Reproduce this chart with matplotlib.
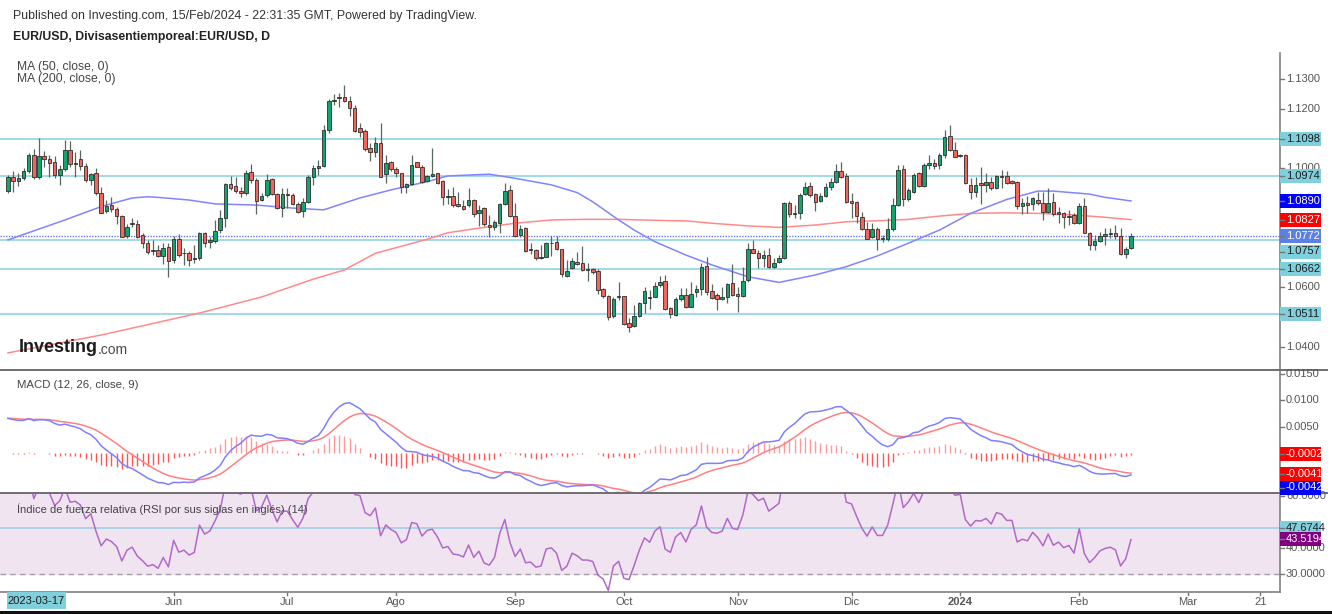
import matplotlib
matplotlib.use('Agg')
import matplotlib.pyplot as plt
import numpy as np
from matplotlib.patches import Rectangle
from matplotlib.lines import Line2D
import matplotlib.transforms as mtransforms

# ---------------- data (EUR/USD daily) ----------------
opens = [1.0925, 1.0972, 1.0956, 1.0967, 1.0992, 1.1043, 1.0972, 1.1041, 1.1030, 1.1020,
         1.0977, 1.0998, 1.1061, 1.1014, 1.1030, 1.1006, 1.0962, 1.0983, 1.0915, 1.0856,
         1.0875, 1.0862, 1.0840, 1.0773, 1.0817, 1.0812, 1.0774, 1.0750, 1.0725, 1.0725,
         1.0706, 1.0736, 1.0691, 1.0763, 1.0716, 1.0714, 1.0696, 1.0697, 1.0781, 1.0751,
         1.0756, 1.0792, 1.0831, 1.0947, 1.0941, 1.0923, 1.0918, 1.0988, 1.0960, 1.0893,
         1.0910, 1.0963, 1.0913, 1.0865, 1.0912, 1.0910, 1.0880, 1.0857, 1.0885, 1.0972,
         1.1002, 1.1007, 1.1129, 1.1227, 1.1238, 1.1241, 1.1227, 1.1201, 1.1134, 1.1126,
         1.1067, 1.1053, 1.1084, 1.0979, 1.1022, 1.0996, 1.0983, 1.0938, 1.0947, 1.1020,
         1.1005, 1.0957, 1.0975, 1.0983, 1.0957, 1.0904, 1.0907, 1.0879, 1.0873, 1.0876,
         1.0893, 1.0848, 1.0865, 1.0809, 1.0801, 1.0815, 1.0879, 1.0927, 1.0839, 1.0775,
         1.0798, 1.0729, 1.0725, 1.0697, 1.0702, 1.0747, 1.0753, 1.0728, 1.0638, 1.0663,
         1.0686, 1.0682, 1.0661, 1.0661, 1.0656, 1.0593, 1.0570, 1.0503, 1.0567, 1.0570,
         1.0478, 1.0469, 1.0504, 1.0548, 1.0565, 1.0568, 1.0607, 1.0621, 1.0529, 1.0506,
         1.0559, 1.0574, 1.0535, 1.0585, 1.0593, 1.0671, 1.0588, 1.0573, 1.0559, 1.0566,
         1.0615, 1.0577, 1.0570, 1.0624, 1.0728, 1.0716, 1.0697, 1.0708, 1.0667, 1.0685,
         1.0698, 1.0882, 1.0846, 1.0851, 1.0913, 1.0941, 1.0912, 1.0890, 1.0907, 1.0938,
         1.0955, 1.0992, 1.0974, 1.0890, 1.0888, 1.0837, 1.0795, 1.0768, 1.0795, 1.0764,
         1.0761, 1.0795, 1.0876, 1.0996, 1.0896, 1.0921, 1.0983, 1.0940, 1.1011, 1.1016,
         1.1011, 1.1044, 1.1109, 1.1061, 1.1041, 1.1044, 1.0944, 1.0921, 1.0949, 1.0944,
         1.0955, 1.0932, 1.0974, 1.0974, 1.0957, 1.0955, 1.0874, 1.0882, 1.0878, 1.0893,
         1.0882, 1.0854, 1.0888, 1.0846, 1.0848, 1.0835, 1.0843, 1.0815, 1.0874, 1.0783,
         1.0742, 1.0756, 1.0772, 1.0778, 1.0781, 1.0772, 1.0711, 1.0733]
highs = [1.0977, 1.0989, 1.0985, 1.1000, 1.1050, 1.1065, 1.1100, 1.1059, 1.1045, 1.1040,
         1.1010, 1.1095, 1.1093, 1.1056, 1.1061, 1.1016, 1.0983, 1.1000, 1.0938, 1.0893,
         1.0904, 1.0871, 1.0843, 1.0812, 1.0831, 1.0825, 1.0781, 1.0759, 1.0759, 1.0742,
         1.0747, 1.0747, 1.0772, 1.0779, 1.0731, 1.0720, 1.0742, 1.0787, 1.0787, 1.0770,
         1.0826, 1.0860, 1.0949, 1.0974, 1.0972, 1.0938, 1.0994, 1.1014, 1.0966, 1.0915,
         1.0979, 1.0966, 1.0918, 1.0935, 1.0932, 1.0918, 1.0888, 1.0899, 1.0977, 1.1011,
         1.1028, 1.1145, 1.1232, 1.1249, 1.1252, 1.1280, 1.1243, 1.1213, 1.1151, 1.1131,
         1.1084, 1.1106, 1.1153, 1.1045, 1.1025, 1.1005, 1.0985, 1.0949, 1.1045, 1.1022,
         1.1010, 1.0977, 1.1067, 1.0985, 1.0960, 1.0930, 1.0938, 1.0921, 1.0893, 1.0932,
         1.0895, 1.0876, 1.0871, 1.0843, 1.0826, 1.0882, 1.0949, 1.0944, 1.0884, 1.0809,
         1.0804, 1.0750, 1.0730, 1.0742, 1.0753, 1.0772, 1.0772, 1.0730, 1.0691, 1.0697,
         1.0719, 1.0738, 1.0680, 1.0663, 1.0661, 1.0596, 1.0574, 1.0568, 1.0618, 1.0571,
         1.0495, 1.0540, 1.0551, 1.0602, 1.0590, 1.0618, 1.0637, 1.0641, 1.0534, 1.0568,
         1.0596, 1.0596, 1.0619, 1.0607, 1.0680, 1.0700, 1.0611, 1.0579, 1.0602, 1.0615,
         1.0678, 1.0602, 1.0667, 1.0747, 1.0759, 1.0725, 1.0725, 1.0731, 1.0697, 1.0708,
         1.0888, 1.0890, 1.0876, 1.0916, 1.0955, 1.0955, 1.0916, 1.0916, 1.0951, 1.0966,
         1.1013, 1.1021, 1.0983, 1.0916, 1.0890, 1.0854, 1.0820, 1.0815, 1.0801, 1.0775,
         1.0832, 1.0899, 1.1011, 1.1011, 1.0932, 1.0983, 1.0988, 1.1016, 1.1044, 1.1030,
         1.1050, 1.1129, 1.1145, 1.1089, 1.1047, 1.1047, 1.0966, 1.0972, 1.1003, 1.0983,
         1.0972, 1.0977, 1.0994, 1.0991, 1.0960, 1.0957, 1.0899, 1.0907, 1.0902, 1.0921,
         1.0921, 1.0932, 1.0916, 1.0871, 1.0854, 1.0860, 1.0851, 1.0882, 1.0899, 1.0786,
         1.0775, 1.0787, 1.0798, 1.0798, 1.0809, 1.0798, 1.0736, 1.0783]
lows = [1.0918, 1.0921, 1.0940, 1.0960, 1.0985, 1.0965, 1.0965, 1.1005, 1.0972, 1.0966,
        1.0944, 1.0990, 1.1005, 1.0972, 1.0994, 1.0955, 1.0944, 1.0910, 1.0848, 1.0850,
        1.0854, 1.0812, 1.0768, 1.0764, 1.0803, 1.0764, 1.0731, 1.0712, 1.0708, 1.0703,
        1.0678, 1.0635, 1.0682, 1.0703, 1.0675, 1.0671, 1.0680, 1.0691, 1.0736, 1.0731,
        1.0747, 1.0781, 1.0803, 1.0927, 1.0915, 1.0904, 1.0910, 1.0949, 1.0846, 1.0891,
        1.0904, 1.0910, 1.0863, 1.0837, 1.0865, 1.0876, 1.0851, 1.0837, 1.0882, 1.0944,
        1.0977, 1.1005, 1.1120, 1.1213, 1.1207, 1.1224, 1.1176, 1.1123, 1.1106, 1.1059,
        1.1025, 1.1037, 1.0969, 1.0949, 1.0992, 1.0972, 1.0918, 1.0915, 1.0944, 1.1003,
        1.0949, 1.0955, 1.0972, 1.0947, 1.0876, 1.0880, 1.0871, 1.0868, 1.0860, 1.0871,
        1.0837, 1.0806, 1.0806, 1.0768, 1.0792, 1.0783, 1.0876, 1.0837, 1.0770, 1.0770,
        1.0719, 1.0711, 1.0691, 1.0694, 1.0700, 1.0705, 1.0725, 1.0635, 1.0635, 1.0660,
        1.0675, 1.0656, 1.0621, 1.0644, 1.0577, 1.0562, 1.0490, 1.0495, 1.0557, 1.0473,
        1.0450, 1.0467, 1.0501, 1.0514, 1.0525, 1.0566, 1.0602, 1.0523, 1.0495, 1.0504,
        1.0555, 1.0529, 1.0532, 1.0568, 1.0574, 1.0574, 1.0559, 1.0523, 1.0557, 1.0546,
        1.0570, 1.0518, 1.0568, 1.0619, 1.0714, 1.0663, 1.0669, 1.0663, 1.0663, 1.0680,
        1.0696, 1.0835, 1.0831, 1.0828, 1.0910, 1.0904, 1.0856, 1.0886, 1.0902, 1.0927,
        1.0951, 1.0966, 1.0882, 1.0831, 1.0815, 1.0792, 1.0761, 1.0764, 1.0725, 1.0753,
        1.0755, 1.0790, 1.0873, 1.0874, 1.0890, 1.0918, 1.0938, 1.0938, 1.0999, 1.0999,
        1.0999, 1.1033, 1.1059, 1.1037, 1.1039, 1.0947, 1.0895, 1.0902, 1.0880, 1.0921,
        1.0927, 1.0929, 1.0932, 1.0947, 1.0947, 1.0862, 1.0846, 1.0848, 1.0860, 1.0876,
        1.0826, 1.0848, 1.0839, 1.0815, 1.0798, 1.0809, 1.0811, 1.0812, 1.0781, 1.0725,
        1.0725, 1.0753, 1.0742, 1.0764, 1.0761, 1.0708, 1.0697, 1.0727]
closes = [1.0972, 1.0956, 1.0967, 1.0992, 1.1043, 1.0972, 1.1041, 1.1030, 1.1019, 1.0977,
          1.0998, 1.1061, 1.1014, 1.1018, 1.1006, 1.0960, 1.0979, 1.0915, 1.0850, 1.0873,
          1.0862, 1.0840, 1.0770, 1.0803, 1.0812, 1.0770, 1.0747, 1.0719, 1.0723, 1.0705,
          1.0731, 1.0688, 1.0761, 1.0708, 1.0714, 1.0692, 1.0699, 1.0781, 1.0747, 1.0757,
          1.0790, 1.0831, 1.0947, 1.0932, 1.0923, 1.0918, 1.0985, 1.0960, 1.0891, 1.0907,
          1.0960, 1.0912, 1.0865, 1.0912, 1.0910, 1.0880, 1.0852, 1.0885, 1.0969, 1.1002,
          1.1007, 1.1129, 1.1227, 1.1229, 1.1235, 1.1227, 1.1201, 1.1126, 1.1123, 1.1064,
          1.1053, 1.1084, 1.0972, 1.1016, 1.0996, 1.0983, 1.0936, 1.0947, 1.1010, 1.1005,
          1.0955, 1.0975, 1.0979, 1.0949, 1.0904, 1.0908, 1.0876, 1.0873, 1.0864, 1.0893,
          1.0845, 1.0860, 1.0811, 1.0801, 1.0818, 1.0879, 1.0923, 1.0839, 1.0772, 1.0795,
          1.0723, 1.0725, 1.0697, 1.0700, 1.0747, 1.0750, 1.0728, 1.0643, 1.0654, 1.0689,
          1.0677, 1.0658, 1.0658, 1.0652, 1.0590, 1.0570, 1.0501, 1.0559, 1.0571, 1.0476,
          1.0467, 1.0504, 1.0548, 1.0586, 1.0568, 1.0604, 1.0618, 1.0525, 1.0510, 1.0559,
          1.0574, 1.0535, 1.0577, 1.0593, 1.0667, 1.0585, 1.0562, 1.0559, 1.0566, 1.0611,
          1.0574, 1.0570, 1.0621, 1.0728, 1.0716, 1.0697, 1.0708, 1.0667, 1.0682, 1.0698,
          1.0882, 1.0846, 1.0851, 1.0910, 1.0938, 1.0910, 1.0886, 1.0907, 1.0938, 1.0955,
          1.0992, 1.0972, 1.0888, 1.0882, 1.0839, 1.0795, 1.0763, 1.0795, 1.0761, 1.0761,
          1.0795, 1.0876, 1.0994, 1.0895, 1.0927, 1.0977, 1.0940, 1.1011, 1.1016, 1.1007,
          1.1044, 1.1104, 1.1061, 1.1039, 1.1044, 1.0949, 1.0921, 1.0944, 1.0942, 1.0952,
          1.0932, 1.0974, 1.0969, 1.0949, 1.0949, 1.0874, 1.0882, 1.0876, 1.0899, 1.0882,
          1.0854, 1.0884, 1.0846, 1.0854, 1.0835, 1.0840, 1.0815, 1.0873, 1.0783, 1.0742,
          1.0755, 1.0772, 1.0778, 1.0781, 1.0772, 1.0711, 1.0727, 1.0772]

ma50_idx = [0, 11, 18, 24, 27, 29, 35, 40, 48, 55, 61, 68, 74, 81, 85, 93, 98, 105,
            110, 113, 118, 121, 125, 131, 136, 143, 149, 156, 162, 168, 174, 180, 186,
            193, 199, 202, 209, 212, 217]
ma50_val = [1.0759, 1.0826, 1.0871, 1.0900, 1.0904, 1.0902, 1.0893, 1.0880, 1.0876,
            1.0866, 1.0860, 1.0900, 1.0927, 1.0955, 1.0974, 1.0980, 1.0966, 1.0944,
            1.0918, 1.0887, 1.0826, 1.0792, 1.0753, 1.0708, 1.0675, 1.0635, 1.0616,
            1.0641, 1.0669, 1.0705, 1.0748, 1.0792, 1.0848, 1.0895, 1.0923, 1.0923,
            1.0913, 1.0902, 1.0890]
ma200_idx = [0, 18, 37, 49, 59, 65, 71, 81, 85, 92, 98, 105, 111, 118, 127, 131, 136,
             143, 149, 156, 162, 169, 174, 180, 186, 193, 199, 206, 212, 217]
ma200_val = [1.0379, 1.0439, 1.0513, 1.0567, 1.0627, 1.0658, 1.0714, 1.0761, 1.0783,
             1.0801, 1.0815, 1.0826, 1.0828, 1.0828, 1.0824, 1.0823, 1.0815, 1.0806,
             1.0801, 1.0809, 1.0820, 1.0824, 1.0828, 1.0839, 1.0848, 1.0850, 1.0848,
             1.0843, 1.0835, 1.0827]

# horizontal levels drawn on the chart
price_levels = [1.1098, 1.0974, 1.0757, 1.0662, 1.0511]
price_ticks = [1.13, 1.12, 1.10, 1.06, 1.04]
macd_ticks = [0.0150, 0.0100, 0.0050]
rsi_ticks = [60.0, 40.0, 30.0]
rsi_level = 47.6744
rsi_last = 43.5194
macd_last_labels = ['-0.0002', '-0.0041', '-0.0042']
macd_last_values = [-0.0002, -0.0041, -0.0042]

# indicator settings and state at the first visible bar
macd_fast, macd_slow, macd_sig = 12, 26, 9
macd_seed_fast, macd_seed_slow, macd_seed_signal = 1.0915, 1.0849, 0.0066
rsi_period = 14
rsi_seed_gain, rsi_seed_loss = 0.0024, 0.0016

date_labels = ['Jun', 'Jul', 'Ago', 'Sep', 'Oct', 'Nov', 'Dic', '2024', 'Feb', 'Mar', '21']
date_label_bar = [32, 54, 75, 98, 119, 141, 163, 184, 207, 228, 242]

# ---------------- figure ----------------
plt.rcParams['font.family'] = ['Liberation Sans', 'DejaVu Sans']
W, H = 1332, 614
fig = plt.figure(figsize=(W / 100, H / 100), dpi=100)
fig.patch.set_facecolor('white')


def fx(px):
    return px / W


def fy(py):
    return 1 - py / H


AX_R = 1280
ax = fig.add_axes([0, fy(370), fx(AX_R), (370 - 53) / H])
axm = fig.add_axes([0, fy(493), fx(AX_R), (493 - 370) / H])
axr = fig.add_axes([0, fy(592), fx(AX_R), (592 - 493) / H])

XL = (-1.546, 245.8)
for a in (ax, axm, axr):
    a.set_xlim(*XL)
    a.set_axis_off()
ax.set_ylim(1.03215, 1.13874)
axm.set_ylim(-0.00771, 0.01582)
axr.set_ylim(23.3, 61.15)

o = np.array(opens)
hh = np.array(highs)
ll = np.array(lows)
c = np.array(closes)
idx = np.arange(len(c))
up = c >= o

GREEN = '#13a56b'
RED = '#f2645c'
EDGE = '#2e2e2e'
CYAN = '#86d0de'

# horizontal levels
for v in price_levels:
    ax.axhline(v, color=CYAN, lw=1.1, zorder=1)
ax.axhline(c[-1], color='#5b7cf0', lw=1.0, ls=(0, (1, 1)), zorder=1)

# MAs
ax.plot(ma200_idx, ma200_val, color='#ff8a8a', lw=1.1, zorder=2)
ax.plot(ma50_idx, ma50_val, color='#8383ff', lw=1.1, zorder=2)

# candles
ax.vlines(idx, ll, hh, color='#56695c', lw=0.9, zorder=3)
bh = np.abs(c - o)
bh = np.where(bh < 0.00004, 0.00004, bh)
ax.bar(idx[up], bh[up], bottom=o[up], width=0.68, color=GREEN, edgecolor=EDGE,
       linewidth=0.6, zorder=4)
ax.bar(idx[~up], bh[~up], bottom=c[~up], width=0.68, color=RED, edgecolor=EDGE,
       linewidth=0.6, zorder=4)


# ---------------- MACD ----------------
def ema(values, n, seed):
    a = 2.0 / (n + 1)
    e = seed
    out = []
    for v in values:
        e += a * (v - e)
        out.append(e)
    return np.array(out)


ema_f = ema(c, macd_fast, macd_seed_fast)
ema_s = ema(c, macd_slow, macd_seed_slow)
macd = ema_f - ema_s
signal = ema(macd, macd_sig, macd_seed_signal)
hist = macd - signal
hcol = np.where(hist >= 0, '#ff9a9a', '#ff5555')
axm.vlines(idx, 0, hist, colors=hcol, lw=1.0, zorder=2)
axm.plot(idx, signal, color='#ff8080', lw=1.1, zorder=3)
axm.plot(idx, macd, color='#7f7fff', lw=1.1, zorder=4)

# ---------------- RSI ----------------
prev = np.concatenate([[o[0]], c[:-1]])
chg = c - prev
g, lo_ = rsi_seed_gain, rsi_seed_loss
rsi = []
for d in chg:
    g += (max(d, 0) - g) / rsi_period
    lo_ += (max(-d, 0) - lo_) / rsi_period
    rsi.append(100 - 100 / (1 + g / lo_))
rsi = np.array(rsi)
axr.axhspan(30, 61.15, color='#f1e4f1', zorder=0)
axr.axhline(30, color='#a0a0a0', lw=1.0, ls=(0, (4, 3)), zorder=1)
axr.axhline(rsi_level, color='#9fcfe4', lw=1.2, zorder=1)
axr.plot(idx, rsi, color='#b069c6', lw=1.1, zorder=3)

# ---------------- frame lines ----------------
LG = '#808080'
fig.add_artist(Line2D([fx(AX_R), fx(AX_R)], [fy(53), fy(592)], color=LG, lw=1.2))
fig.add_artist(Line2D([0, fx(1327)], [fy(370), fy(370)], color='#6e6e6e', lw=1.4))
fig.add_artist(Line2D([0, fx(1327)], [fy(493), fy(493)], color='#6e6e6e', lw=1.4))
fig.add_artist(Line2D([0, fx(AX_R)], [fy(592), fy(592)], color=LG, lw=1.2))
fig.add_artist(Rectangle((0, 0), 1, 3 / H, transform=fig.transFigure,
                         facecolor='#111111', edgecolor='none', zorder=9))


# ---------------- right-hand scale labels ----------------
def ypix(axis, v):
    return axis.transData.transform((0, v))[1]  # display y from bottom


def scale_label(axis, v, txt, fc=None, tc='#555555', disp=None, z=5):
    yd = ypix(axis, v) if disp is None else disp
    if fc is not None:
        fig.add_artist(Rectangle((fx(AX_R), (yd - 7) / H), 41 / W, 14 / H,
                                 transform=fig.transFigure, facecolor=fc,
                                 edgecolor='none', zorder=z))
    fig.add_artist(Line2D([fx(AX_R), fx(AX_R + 4)], [yd / H, yd / H],
                          color='#777777', lw=1.0, zorder=z + 0.1))
    fig.text(fx(AX_R + 6), yd / H, txt, fontsize=8, color=tc, va='center',
             ha='left', zorder=z + 0.2)


for v in price_ticks:
    scale_label(ax, v, f'{v:.4f}', z=4)
for v in price_levels:
    # the 1.0757 label is pushed down below the last-price label, as on the chart
    dsp = H - 251.5 if abs(v - 1.0757) < 1e-6 else None
    scale_label(ax, v, f'{v:.4f}', fc='#80cfdc', tc='#1e1e1e', disp=dsp, z=6)
scale_label(ax, ma50_val[-1], f'{ma50_val[-1]:.4f}', fc='#0000ff', tc='white', z=7)
scale_label(ax, ma200_val[-1], f'{ma200_val[-1]:.4f}', fc='#ff0000', tc='white', z=7)
scale_label(ax, c[-1], f'{c[-1]:.4f}', fc='#5b80e8', tc='white', z=8)

for v in macd_ticks:
    scale_label(axm, v, f'{v:.4f}', z=4)
macd_colors = ['#ff0000', '#ff0000', '#0000ff']
macd_disp = [ypix(axm, macd_last_values[0]), H - 474, H - 487.5]
for t, col, dsp in zip(macd_last_labels, macd_colors, macd_disp):
    scale_label(axm, 0, t, fc=col, tc='white', disp=dsp, z=7)

for v in rsi_ticks:
    scale_label(axr, v, f'{v:.4f}', z=4)
scale_label(axr, rsi_level, f'{rsi_level:.4f}', fc='#80cfdc', tc='#1e1e1e', z=6)
scale_label(axr, rsi_last, f'{rsi_last:.4f}', fc='#800080', tc='white', z=7)

# ---------------- date labels ----------------
tr = mtransforms.blended_transform_factory(axr.transData, fig.transFigure)
for lab, b in zip(date_labels, date_label_bar):
    axr.text(b, fy(602), lab, transform=tr, fontsize=8, color='#555555',
             ha='center', va='center', clip_on=False,
             fontweight='bold' if lab == '2024' else 'normal')
    axr.add_line(Line2D([b, b], [fy(592), fy(595)], transform=tr, color='#777777',
                        lw=1.0, clip_on=False))
fig.add_artist(Rectangle((fx(7), fy(609)), 59 / W, 17 / H, transform=fig.transFigure,
                         facecolor='#7fcfdc', edgecolor='none', zorder=5))
fig.text(fx(36.5), fy(601), '2023-03-17', fontsize=8, color='#1e1e1e', ha='center',
         va='center', zorder=6)

# ---------------- header / legend texts ----------------
fig.text(fx(13), fy(16), 'Published on Investing.com, 15/Feb/2024 - 22:31:35 GMT, Powered by TradingView.',
         fontsize=8.9, color='#333333', va='center')
fig.text(fx(13), fy(37), 'EUR/USD, Divisasentiemporeal:EUR/USD, D', fontsize=8.8,
         fontweight='bold', color='#222222', va='center')
fig.text(fx(17), fy(67), 'MA (50, close, 0)', fontsize=8.7, color='#444444', va='center')
fig.text(fx(17), fy(79), 'MA (200, close, 0)', fontsize=8.7, color='#444444', va='center')
fig.text(fx(17), fy(385), 'MACD (12, 26, close, 9)', fontsize=8.2, color='#444444', va='center')
fig.text(fx(17), fy(509), 'Índice de fuerza relativa (RSI por sus siglas en inglés) (14)',
         fontsize=8.0, color='#444444', va='center')

logo = fig.text(fx(19), fy(348), 'Investing', fontsize=13, fontweight='bold',
                color='#1c1c1c', va='center', zorder=6)
fig.canvas.draw()
bb = logo.get_window_extent()
fig.text(bb.x1 / W, fy(350), '.com', fontsize=10, color='#4a4a4a', va='center', zorder=6)

fig.savefig('out.png', dpi=100, facecolor='white')
